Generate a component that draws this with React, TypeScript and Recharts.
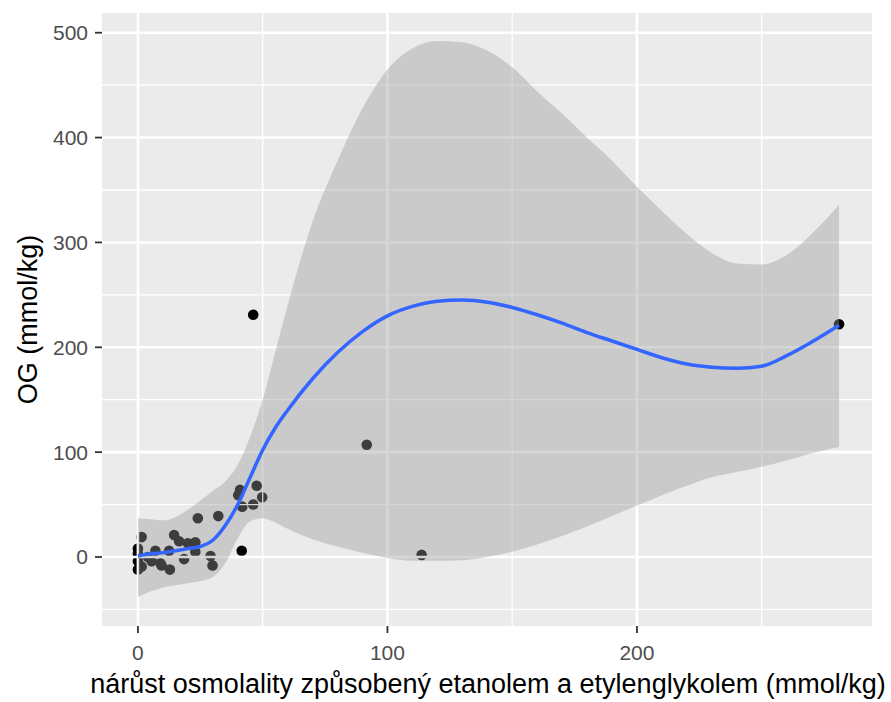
import {
  ComposedChart,
  Scatter,
  Line,
  Area,
  XAxis,
  YAxis,
  ReferenceArea,
  ReferenceLine,
} from "recharts"

// measured points
const pointX = [0, 0, 0, 0, 1.5, 1.5, 4, 5.5, 7, 9, 9.5, 12.8, 12.5, 14.5, 16.5, 18.5, 20, 23, 23, 24, 29.1, 29.9, 32.2, 41.6, 40.9, 40.2, 41.8, 47.6, 49.8, 46.2, 46.2, 91.7, 113.7, 281]
const pointY = [8, 3, -4, -12, 19, -9, 0, -4, 6, -6, -8, -12, 6, 21, 15, -2, 13, 14, 5, 37, 1, -8, 39, 6, 64, 59, 48, 68, 57, 50, 231, 107, 2, 222]

// loess fit + confidence band
const smoothX = [0, 5, 10, 15, 20, 25, 30, 35, 40, 45, 50, 55, 60, 70, 80, 90, 100, 110, 120, 130, 140, 150, 160, 170, 180, 190, 200, 210, 220, 230, 240, 250, 260, 270, 281]
const smoothY = [1, 3, 4, 6, 8, 10, 16, 30, 50, 76, 102, 123, 140, 170, 195, 215, 230, 239, 244, 245, 243, 238, 231, 223, 214, 206, 198, 190, 184, 181, 180, 182, 192, 205, 221]
const bandLow = [-38, -33, -29, -27, -25, -23, -19, -6, 18, 34, 37, 33, 27, 17, 10, 4, -1, -3.5, -3.5, -3, 0, 5, 12, 20, 29, 39, 49, 59, 68, 76, 81, 86, 92, 99, 105]
const bandHigh = [37, 36, 35, 38, 45, 54, 63, 72, 88, 115, 150, 195, 240, 320, 378, 428, 465, 485, 492, 491, 483, 467, 444, 423, 400, 378, 353, 330, 308, 290, 280, 279, 288, 308, 336]

const xTicks = [0, 100, 200]
const yTicks = [0, 100, 200, 300, 400, 500]
const xMinor = [50, 150, 250]
const yMinor = [-50, 50, 150, 250, 350, 450]

const X_DOMAIN: [number, number] = [-14.4, 294.2]
const Y_DOMAIN: [number, number] = [-65.8, 518.8]

const points = pointX.map((x, i) => ({ x, y: pointY[i] }))
const smooth = smoothX.map((x, i) => ({ x, y: smoothY[i], band: [bandLow[i], bandHigh[i]] }))

const FONT = "Arial, 'Liberation Sans', sans-serif"

export default function App() {
  return (
    <div style={{ position: "absolute", left: 0, top: 0, width: 891, height: 702, background: "#fff" }}>
      <ComposedChart
        width={891}
        height={702}
        data={smooth}
        margin={{ top: 13, right: 19, bottom: 36, left: 42 }}
      >
        <XAxis
          type="number"
          dataKey="x"
          domain={X_DOMAIN}
          ticks={xTicks}
          allowDataOverflow
          height={40}
          axisLine={false}
          tickSize={7}
          tickMargin={12}
          tickLine={{ stroke: "#333333", strokeWidth: 1.8 }}
          tick={{ fill: "#4D4D4D", fontSize: 21, fontFamily: FONT }}
        />
        <YAxis
          type="number"
          dataKey="y"
          domain={Y_DOMAIN}
          ticks={yTicks}
          allowDataOverflow
          width={60}
          axisLine={false}
          tickSize={7}
          tickMargin={7}
          tickLine={{ stroke: "#333333", strokeWidth: 1.8 }}
          tick={{ fill: "#4D4D4D", fontSize: 21, fontFamily: FONT }}
        />
        <ReferenceArea
          x1={X_DOMAIN[0]}
          x2={X_DOMAIN[1]}
          y1={Y_DOMAIN[0]}
          y2={Y_DOMAIN[1]}
          fill="#EBEBEB"
          fillOpacity={1}
          stroke="none"
        />
        {xMinor.map((v) => (
          <ReferenceLine key={`xm${v}`} x={v} stroke="#FFFFFF" strokeWidth={1.3} />
        ))}
        {yMinor.map((v) => (
          <ReferenceLine key={`ym${v}`} y={v} stroke="#FFFFFF" strokeWidth={1.3} />
        ))}
        {xTicks.map((v) => (
          <ReferenceLine key={`xM${v}`} x={v} stroke="#FFFFFF" strokeWidth={2.6} />
        ))}
        {yTicks.map((v) => (
          <ReferenceLine key={`yM${v}`} y={v} stroke="#FFFFFF" strokeWidth={2.6} />
        ))}
        <Scatter
          data={points}
          dataKey="y"
          isAnimationActive={false}
          zIndex={300}
          shape={(p: any) => <circle cx={p.cx} cy={p.cy} r={5.3} fill="#000000" />}
        />
        <Area
          dataKey="band"
          type="monotone"
          stroke="none"
          fill="#999999"
          fillOpacity={0.4}
          zIndex={700}
          isAnimationActive={false}
        />
        <Line
          dataKey="y"
          type="monotone"
          stroke="#3366FF"
          strokeWidth={3.5}
          dot={false}
          activeDot={false}
          zIndex={800}
          isAnimationActive={false}
        />
        <text
          x={488}
          y={693}
          textAnchor="middle"
          fill="#000000"
          fontSize={27}
          fontFamily={FONT}
        >
          nárůst osmolality způsobený etanolem a etylenglykolem (mmol/kg)
        </text>
        <text
          x={37}
          y={319.5}
          transform="rotate(-90 37 319.5)"
          textAnchor="middle"
          fill="#000000"
          fontSize={27}
          fontFamily={FONT}
        >
          OG (mmol/kg)
        </text>
      </ComposedChart>
    </div>
  )
}
